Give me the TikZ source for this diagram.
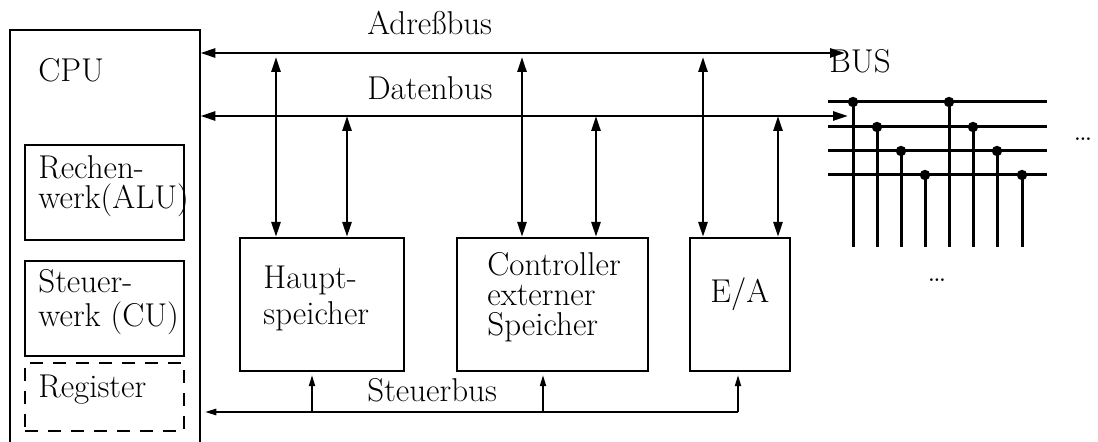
\documentclass[tikz,border=0pt]{standalone}
\usepackage{tikz}
\usetikzlibrary{arrows.meta}

\tikzset{
  txt/.style={inner sep=0pt,anchor=base west,align=left,font=\fontsize{16.5}{15}\selectfont},
  box/.style={draw,line width=1.1pt,inner sep=0pt,minimum height=66.5pt},
  bus/.style={line width=1.35pt,{Triangle[length=7.5pt,width=4.5pt]}-{Triangle[length=7.5pt,width=4.5pt]}},
  ctl/.style={line width=0.9pt,-{Triangle[length=5.5pt,width=3pt]},shorten >=1.5pt},
  wire/.style={line width=1.5pt}
}

\begin{document}
\begin{tikzpicture}[x=0.5pt,y=-0.5pt]
        \useasboundingbox (0,0) rectangle (1098,442);

        %Shape: CPU (open at the bottom)
        \node (cpu) [inner sep=0pt,minimum width=95pt,minimum height=206pt] at (105,236) {};
        \draw [line width=1pt] (cpu.south west) -- (cpu.north west) -- (cpu.north east) -- (cpu.south east);
        %Shape: inner boxes
        \node (alu) [box,minimum width=79.5pt,minimum height=47.5pt] at (104.5,192.5) {};
        \node (cu) [box,minimum width=79.5pt,minimum height=47.5pt] at (104.5,308.5) {};
        \node (reg) [box,dash pattern=on 6.5pt off 5pt,minimum width=79.5pt,minimum height=34pt] at (104.5,397) {};
        %Shape: units on the bus
        \node (haupt) [box,minimum width=82pt] at (322,304.5) {};
        \node (ctrl) [box,minimum width=95.5pt] at (552.5,304.5) {};
        \node (ea) [box,minimum width=50pt] at (740,304.5) {};

        %Straight Lines: address and data bus
        \coordinate (adr) at (845,53);
        \coordinate (dat) at (848,116);
        \draw [bus] (cpu.east |- adr) -- (adr);
        \draw [bus] (cpu.east |- dat) -- (dat);
        \foreach \n/\x in {haupt/276,ctrl/522,ea/703}
          \draw [bus,shorten <=2pt] (\x,0 |- adr) -- (\x,0 |- \n.north);
        \foreach \n/\x in {haupt/347,ctrl/596,ea/778}
          \draw [bus] (\x,0 |- dat) -- (\x,0 |- \n.north);

        %Straight Lines: control bus
        \coordinate (stb) at (738,412);
        \draw [line width=1.3pt,-{Triangle[length=6pt,width=3pt]},shorten >=2pt] (stb) -- (cpu.east |- stb);
        \foreach \n/\x in {haupt/312,ctrl/543,ea/738}
          \draw [ctl] (\x,0 |- stb) -- (\x,0 |- \n.south);

        %Straight Lines: bus lines
        \foreach \y in {102,127,151,175}
          \draw [wire] (828,\y) -- (1047,\y);
        \foreach \x/\y in {853/102,877/127,901/151,925/175,949/102,973/127,997/151,1022/175}
          {\draw [wire] (\x,\y) -- (\x,247);
           \fill (\x,\y) circle (2.6pt);}

        % Text Node
        \node (adrtxt) [txt] at (367,35) {Adreßbus};
        \node (dattxt) [txt] at (367,100) {Datenbus};
        \node (stbtxt) [txt] at (367,402) {Steuerbus};
        \node (bustxt) [txt] at (829,73) {BUS};
        \node (cputxt) [txt] at (38,82) {CPU};
        \node (alutxt) [txt] at (38,209) {Rechen-\\werk(ALU)};
        \node (cutxt) [txt,font=\fontsize{16.5}{17}\selectfont] at (38,327) {Steuer-\\werk (CU)};
        \node (regtxt) [txt] at (38,398) {Register};
        \node (hauptxt) [txt,font=\fontsize{16.5}{18}\selectfont] at (263,325) {Haupt-\\speicher};
        \node (ctrltxt) [txt] at (487,336) {Controller\\externer\\Speicher};
        \node (eatxt) [txt] at (710,303) {E/A};
        \node (dotsr) [txt,anchor=base] at (1083,141) {\dots};
        \node (dotsb) [txt,anchor=base] at (937,282) {\dots};
\end{tikzpicture}
\end{document}
